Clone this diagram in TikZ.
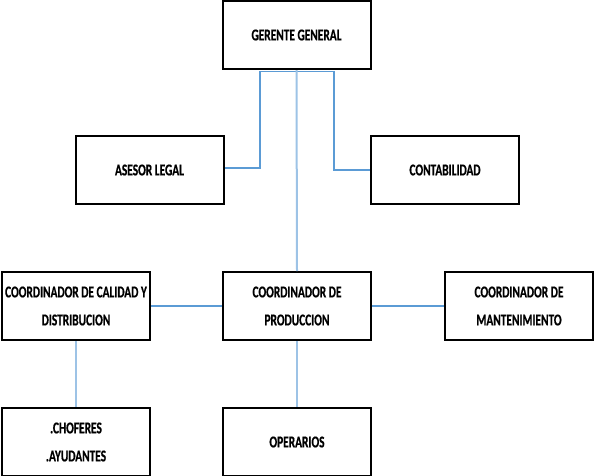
\documentclass[tikz,border=0pt]{standalone}
\usepackage{fontspec}
\newfontfamily\boxfont{Carlito}[FakeStretch=0.69, FakeBold=0.6,
  BoldFeatures={FakeStretch=0.69, FakeBold=0.6}]
\definecolor{linkblue}{HTML}{5B9BD5}
\definecolor{lightblue}{HTML}{9DC3E6}
\begin{document}
\begin{tikzpicture}[x=1pt, y=-1pt,
  unit/.style={draw=black, line width=2pt, fill=white, minimum width=148pt,
    minimum height=68pt, inner sep=0pt, align=center,
    font=\boxfont\bfseries\fontsize{16.5}{28}\selectfont},
  link/.style={draw=linkblue, line width=1.6pt},
  trunk/.style={draw=lightblue, line width=2pt}]
\useasboundingbox (0,0) rectangle (594,475);
\clip (0,0) rectangle (594,475);

% boxes
\node[unit] (gg)   at (296.5,35)  {GERENTE GENERAL};
\node[unit] (al)   at (149.5,170) {ASESOR LEGAL};
\node[unit] (cont) at (445,170)   {CONTABILIDAD};
\node[unit] (cp)   at (297,306)   {COORDINADOR DE\\PRODUCCION};
\node[unit] (ccd)  at (76,306)    {COORDINADOR DE CALIDAD Y\\DISTRIBUCION};
\node[unit] (cm)   at (519,306)   {COORDINADOR DE\\MANTENIMIENTO};
\node[unit] (ch)   at (76,442)    {.CHOFERES\\.AYUDANTES};
\node[unit] (op)   at (297,442)   {OPERARIOS};

% bend points of the two side branches under the manager
\coordinate (kl) at (260,120);
\coordinate (kr) at (334,120);
\coordinate (top) at ([yshift=-1.5pt]gg.south);

% reporting lines
\draw[link] (top) -| (kl) |- ([yshift=2pt]al.east);
\draw[link] (top) -| (kr) |- (cont.west);
\draw[trunk] (gg.south) -- (cp.north);
\draw[link] (ccd.east) -- (cp.west);
\draw[link] (cp.east) -- (cm.west);
\draw[trunk] (ccd.south) -- (ch.north);
\draw[trunk] (cp.south) -- (op.north);
\end{tikzpicture}
\end{document}
